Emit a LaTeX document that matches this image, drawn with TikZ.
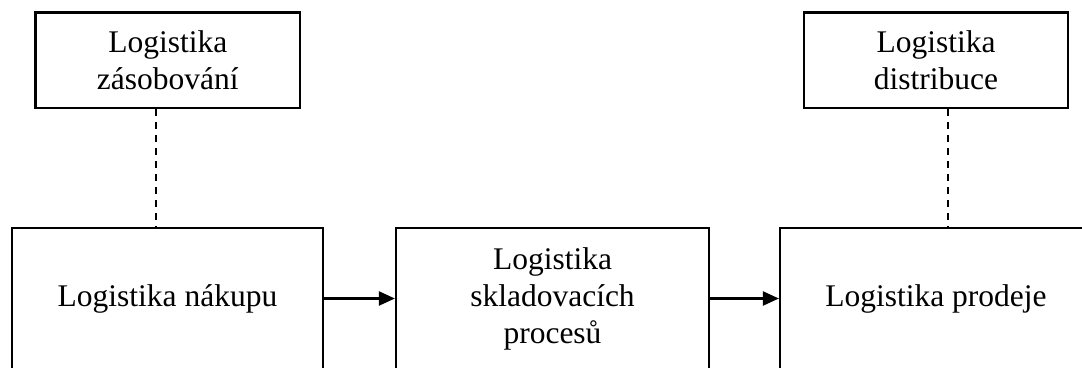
\documentclass[tikz,border=0pt]{standalone}
\usepackage{fontspec}
\setmainfont{Liberation Serif}
\usetikzlibrary{arrows.meta}
\begin{document}
\begin{tikzpicture}[x=1pt,y=1pt,
  box/.style={draw,line width=2.2pt,rectangle,inner sep=0pt,align=center,
              font=\fontsize{31.5}{37}\selectfont},
  topbox/.style={box,minimum width=264.5pt,minimum height=95.5pt},
  mainbox/.style={box,minimum height=141pt},
  flow/.style={line width=2.2pt,-{Triangle[length=16pt,width=14pt]}},
  link/.style={line width=2.2pt,dash pattern=on 7pt off 6pt}]
\useasboundingbox (0,0) rectangle (1082,367);
\clip (0,0) rectangle (1082,367);

% upper boxes
\node[topbox] (zas) at (167.75,306.75) {Logistika\\zásobování};
\node[topbox] (dis) at (936,306.75) {Logistika\\distribuce};

% main chain
\node[mainbox,minimum width=311pt] (nak) at (167.5,68.5) {Logistika nákupu};
\node[mainbox,minimum width=313pt] (skl) at (552.5,68.5) {Logistika\\skladovacích\\procesů};
\node[mainbox,minimum width=312pt] (pro) at (936,68.5) {Logistika prodeje};

% dashed links
\coordinate (d1) at (156,0);
\coordinate (d2) at (948,0);
\draw[link] (zas.south -| d1) -- (nak.north -| d1);
\draw[link] (dis.south -| d2) -- (pro.north -| d2);

% arrows
\draw[flow] (nak.east) -- (skl.west);
\draw[flow] (skl.east) -- (pro.west);
\end{tikzpicture}
\end{document}
